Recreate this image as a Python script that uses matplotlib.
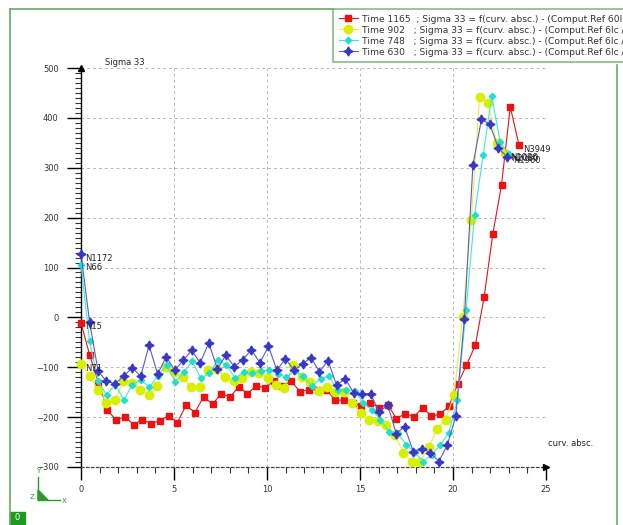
import matplotlib
matplotlib.use("Agg")
import matplotlib.pyplot as plt
from matplotlib.lines import Line2D
from matplotlib.patches import Rectangle, Polygon

# courbes Sigma 33 = f(abscisse curviligne) pour 4 instants
labels = ["Time 1165  ; Sigma 33 = f(curv. absc.) - (Comput.Ref 60l / Node)",
          "Time 902   ; Sigma 33 = f(curv. absc.) - (Comput.Ref 6lc / Node)",
          "Time 748   ; Sigma 33 = f(curv. absc.) - (Comput.Ref 6lc / Node)",
          "Time 630   ; Sigma 33 = f(curv. absc.) - (Comput.Ref 6lc / Node)"]

x_1165 = [0, 0.47, 0.94, 1.41, 1.88, 2.36, 2.83, 3.30, 3.77, 4.24, 4.71, 5.18, 5.65, 6.12,
          6.59, 7.07, 7.54, 8.01, 8.48, 8.95, 9.42, 9.89, 10.36, 10.83, 11.30, 11.78, 12.25,
          12.72, 13.19, 13.66, 14.13, 14.60, 15.07, 15.54, 16.01, 16.49, 16.96, 17.43, 17.90,
          18.37, 18.84, 19.31, 19.78, 20.25, 20.72, 21.20, 21.67, 22.14, 22.61, 23.08, 23.55]
s_1165 = [-11, -76, -131, -185, -206, -199, -215, -205, -213, -207, -197, -211, -176, -191,
          -159, -174, -153, -160, -139, -153, -137, -141, -128, -137, -128, -149, -145,
          -145, -145, -166, -166, -171, -178, -171, -181, -175, -203, -193, -199,
          -181, -198, -194, -178, -134, -96, -56, 40, 167, 266, 422, 345]

x_902 = [0, 0.46, 0.91, 1.37, 1.82, 2.28, 2.74, 3.19, 3.65, 4.10, 4.56, 5.02, 5.47, 5.93,
         6.38, 6.84, 7.30, 7.75, 8.21, 8.66, 9.12, 9.58, 10.03, 10.49, 10.94, 11.40, 11.86,
         12.31, 12.77, 13.22, 13.68, 14.14, 14.59, 15.05, 15.50, 15.96, 16.42, 16.87, 17.33,
         17.78, 18.24, 18.70, 19.15, 19.61, 20.06, 20.52, 20.98, 21.43, 21.89, 22.34, 22.80]
s_902 = [-93, -117, -145, -171, -166, -128, -131, -145, -156, -138, -100, -109, -120, -139,
         -140, -106, -104, -120, -127, -122, -110, -111, -121, -135, -141, -96, -120,
         -130, -148, -140, -149, -150, -172, -192, -205, -208, -216, -235, -271,
         -289, -289, -260, -223, -205, -155, 0, 195, 442, 429, 349, 329]

x_748 = [0, 0.46, 0.92, 1.38, 1.84, 2.30, 2.76, 3.22, 3.68, 4.14, 4.60, 5.06, 5.52, 5.98,
         6.44, 6.90, 7.36, 7.82, 8.28, 8.74, 9.20, 9.66, 10.12, 10.58, 11.04, 11.50, 11.96,
         12.42, 12.88, 13.34, 13.80, 14.26, 14.72, 15.18, 15.64, 16.10, 16.56, 17.02, 17.48,
         17.94, 18.40, 18.86, 19.32, 19.78, 20.24, 20.70, 21.16, 21.62, 22.08, 22.54, 23.00]
s_748 = [106, -48, -128, -156, -134, -166, -135, -125, -140, -117, -96, -129, -110, -88,
         -122, -112, -86, -95, -122, -110, -112, -108, -105, -113, -120, -108, -118,
         -138, -123, -118, -146, -146, -147, -171, -186, -205, -229, -232, -255,
         -270, -289, -275, -256, -231, -165, 14, 206, 325, 444, 351, 327]

x_630 = [0, 0.46, 0.92, 1.37, 1.83, 2.29, 2.75, 3.21, 3.66, 4.12, 4.58, 5.04, 5.50, 5.95,
         6.41, 6.87, 7.33, 7.79, 8.24, 8.70, 9.16, 9.62, 10.08, 10.53, 10.99, 11.45, 11.91,
         12.37, 12.82, 13.28, 13.74, 14.20, 14.66, 15.11, 15.57, 16.03, 16.49, 16.95, 17.40,
         17.86, 18.32, 18.78, 19.24, 19.69, 20.15, 20.61, 21.07, 21.53, 21.98, 22.44, 22.90]
s_630 = [127, -9, -108, -128, -133, -118, -101, -118, -56, -114, -79, -106, -86, -66,
         -91, -51, -103, -76, -99, -85, -65, -91, -58, -106, -83, -106, -93,
         -81, -109, -87, -136, -123, -151, -153, -154, -189, -176, -233, -219,
         -269, -263, -271, -289, -256, -198, -3, 305, 397, 387, 339, 322]

# noeuds annotes (debut / fin de chaque courbe)
start_nodes = ["N15", "N71", "N66", "N1172"]
end_nodes = ["N3949", "N1086", "N2080", "N1960"]

W, H = 623, 525
vert = "#6aaa6a"
styles = [
    dict(color="#ee1111", marker="s", ms=4, mfc="#ee1111", mec="#ee1111"),
    dict(color="#e8f040", marker="o", ms=6, mfc="#d8f000", mec="#d8f000"),
    dict(color="#40e8d8", marker="D", ms=3.2, mfc="#20e0cc", mec="#20e0cc"),
    dict(color="#5a5ad0", marker=(4, 1, 0), ms=6.5, mfc="#3838c8", mec="#3838c8"),
]

fig = plt.figure(figsize=(W / 100, H / 100), dpi=100)
fig.patch.set_facecolor("white")
ax = fig.add_axes([81 / W, 1 - 467 / H, 465 / W, 399 / H])

xs = [x_1165, x_902, x_748, x_630]
ys = [s_1165, s_902, s_748, s_630]
for x, y, lab, st in zip(xs, ys, labels, styles):
    ax.plot(x, y, lw=0.8, label=lab, clip_on=False, zorder=3, **st)

ax.set_xlim(0, 25)
ax.set_ylim(-300, 500)

# axes facon Cast3M
for s in ["top", "right"]:
    ax.spines[s].set_visible(False)
ax.spines["left"].set_color("black")
ax.spines["left"].set_linewidth(1)
ax.spines["bottom"].set_color("#444444")
ax.spines["bottom"].set_linestyle((0, (2, 2)))
ax.spines["bottom"].set_linewidth(0.9)

ax.set_xticks([0, 5, 10, 15, 20, 25])
ax.set_xticks(range(1, 25), minor=True)
ax.set_yticks(range(-300, 501, 100))
ax.set_yticks(range(-300, 501, 10), minor=True)
ax.tick_params(which="major", direction="out", length=10, width=1, color="black",
               labelsize=6, labelcolor="#333333", pad=6)
ax.tick_params(which="minor", direction="out", length=4, width=0.8, color="#333333")
ax.tick_params(axis="x", which="major", length=9, pad=4)

ax.grid(True, which="major", color="#b8b8b8", linestyle=(0, (3, 3)), linewidth=0.7)
ax.set_axisbelow(True)

# fleches des axes
ax.plot([0], [500], marker="^", color="black", ms=5, clip_on=False, zorder=5)
ax.plot([25], [-300], marker=">", color="black", ms=5, clip_on=False, zorder=5)

ax.text(1.3, 503, "Sigma 33", fontsize=6, color="#222222", va="bottom")
ax.text(25.1, -262, "curv. absc.", fontsize=6, color="#222222", va="bottom")

# noms des noeuds
for name, y, dy in zip(start_nodes, ys, [-8, -10, -6, -8]):
    ax.text(0.2, y[0] + dy, name, fontsize=6, color="#222222", va="center")
ax.text(x_1165[-1] + 0.2, s_1165[-1] - 8, end_nodes[0], fontsize=6, color="#222222",
        va="center")
for name, x, y, dx in zip(end_nodes[1:], xs[1:], ys[1:], [0.25, 0.15, 0.35]):
    ax.text(x[-1] + dx, y[-1] - 8, name, fontsize=6, color="#222222", va="center")

leg = ax.legend(loc="upper left", bbox_to_anchor=(333 / W, 1 - 9 / H),
                bbox_transform=fig.transFigure, fontsize=6.6, frameon=True,
                fancybox=False, handlelength=2.1, handletextpad=0.5,
                labelspacing=0.22, borderpad=0.6, borderaxespad=0)
leg.get_frame().set_edgecolor(vert)
leg.get_frame().set_linewidth(1.2)
for t in leg.get_texts():
    t.set_color("#333333")

# cadre vert de la fenetre
def px(xp, yp):
    return xp / W, 1 - yp / H

for (x0, y0), (x1, y1) in [((10, 9), (333, 9)), ((10, 9), (10, 525)),
                           ((617, 65), (617, 525))]:
    a, b = px(x0, y0)
    c, d = px(x1, y1)
    fig.add_artist(Line2D([a, c], [b, d], color=vert, lw=1.2))

x0, y0 = px(10, 525)
fig.add_artist(Rectangle((x0, y0), 15 / W, 13 / H, color="#1f9a1f"))
fig.text(17.5 / W, 1 - 518 / H, "0", fontsize=6, color="white", ha="center", va="center")

# triedre
g = "#2a9a2a"
fig.add_artist(Line2D([38 / W, 38 / W], [1 - 500 / H, 1 - 477 / H], color=g, lw=1))
fig.add_artist(Line2D([38 / W, 60 / W], [1 - 500 / H, 1 - 500 / H], color=g, lw=1))
fig.add_artist(Polygon([px(38, 500), px(38, 490), px(48, 500)], closed=True, color=g))
fig.text(38 / W, 1 - 474 / H, "Y", fontsize=5, color=g, ha="center", va="bottom")
fig.text(62 / W, 1 - 501 / H, "X", fontsize=5, color=g, ha="left", va="center")
fig.text(34 / W, 1 - 497 / H, "Z", fontsize=5, color=g, ha="right", va="center")

fig.savefig("out.png", dpi=100)
